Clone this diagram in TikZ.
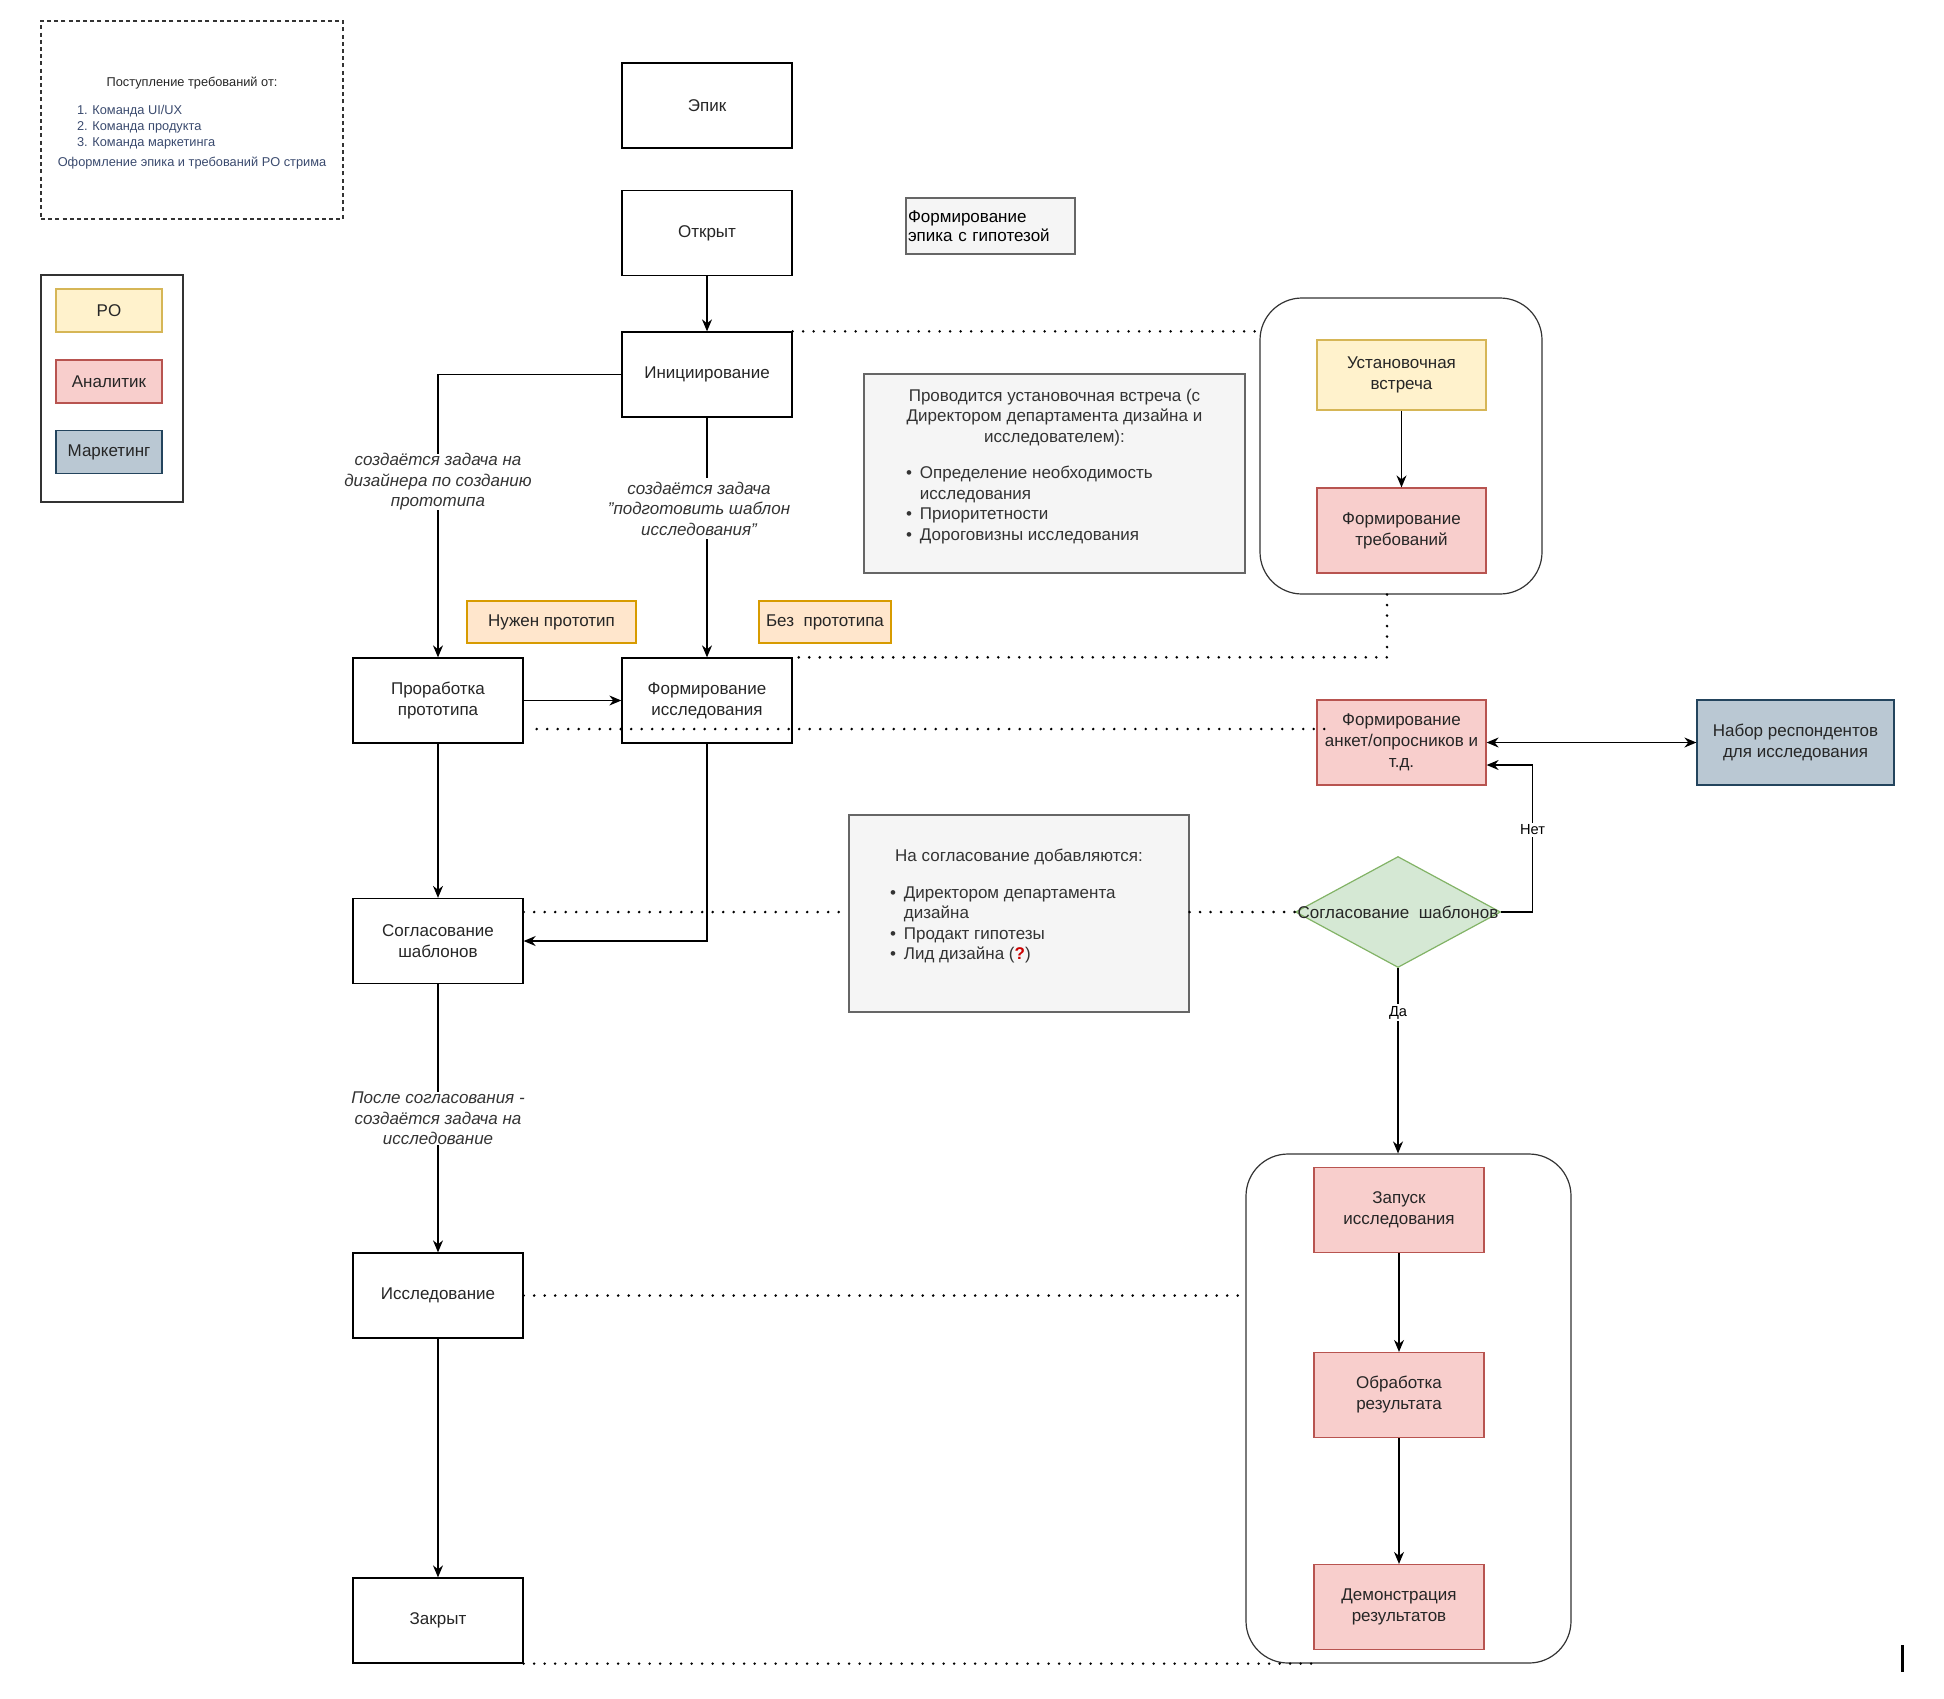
\documentclass[tikz,border=0pt]{standalone}
\usepackage{fontspec}
\setmainfont{Liberation Sans}
\usetikzlibrary{arrows.meta,shapes.geometric}

\definecolor{poFill}{HTML}{FFF2CC}
\definecolor{poLine}{HTML}{D6B656}
\definecolor{anFill}{HTML}{F8CECC}
\definecolor{anLine}{HTML}{B85450}
\definecolor{mkFill}{HTML}{BAC8D3}
\definecolor{mkLine}{HTML}{23445D}
\definecolor{tagFill}{HTML}{FFE6CC}
\definecolor{tagLine}{HTML}{D79B00}
\definecolor{okFill}{HTML}{D5E8D4}
\definecolor{okLine}{HTML}{82B366}
\definecolor{noteFill}{HTML}{F5F5F5}
\definecolor{noteLine}{HTML}{666666}
\definecolor{noteText}{HTML}{333333}
\definecolor{reqBlue}{HTML}{3A4A6E}
\definecolor{askRed}{HTML}{CC0000}

\tikzset{
  stage/.style={draw, line width=0.65pt, minimum width=85pt, minimum height=42.5pt, align=center, inner sep=1pt, text=black!85},
  rolebox/.style={draw, line width=0.6pt, minimum width=84.5pt, minimum height=42.5pt, align=center, inner sep=1pt, text=black!85},
  pobox/.style={rolebox, draw=poLine, fill=poFill},
  anbox/.style={rolebox, draw=anLine, fill=anFill},
  mkbox/.style={rolebox, draw=mkLine, fill=mkFill},
  tagbox/.style={draw=tagLine, fill=tagFill, line width=0.6pt, minimum height=21pt, inner sep=1pt, text=black!85},
  notebox/.style={draw=noteLine, fill=noteFill, text=noteText, line width=0.6pt, inner sep=0pt},
  groupbox/.style={draw=black!80, line width=0.6pt, rounded corners=21pt},
  flow/.style={line width=0.65pt, -{Stealth[length=6pt,width=5pt]}},
  flowboth/.style={line width=0.65pt, {Stealth[length=6pt,width=5pt]}-{Stealth[length=6pt,width=5pt]}},
  dots/.style={line width=1.4pt, dash pattern=on 0pt off 5.25pt, line cap=round},
  edgetxt/.style={font=\fontsize{8.5}{10.25}\selectfont\itshape, text=noteText, fill=white, align=center, inner sep=0pt},
  yesno/.style={font=\fontsize{7.3}{8}\selectfont, fill=white, inner sep=1pt}
}

\begin{document}
\begin{tikzpicture}[font=\fontsize{8.5}{10.5}\selectfont]
    \useasboundingbox (0pt,0pt) rectangle (972pt,-849pt);

    \node[draw=black!80, line width=0.6pt, dash pattern=on 2pt off 1.6pt, minimum width=151pt, minimum height=99pt, align=center, text=black!85, font=\fontsize{6.4}{8}\selectfont] (reqs) at (96pt,-60pt) {\rule{0pt}{8pt}Поступление требований от:\\[6pt]
        \makebox[115pt][l]{\color{reqBlue}1. Команда UI/UX}\\
        \makebox[115pt][l]{\color{reqBlue}2. Команда продукта}\\
        \makebox[115pt][l]{\color{reqBlue}3. Команда маркетинга}\\[2pt]
        {\color{reqBlue}Оформление эпика и требований PO стрима}};

    \node[draw=black!80, line width=0.75pt, minimum width=71pt, minimum height=113.5pt] (legend) at (56pt,-194.25pt) {};
    \node[pobox, minimum width=53pt, minimum height=21.5pt] (po) at (54.5pt,-155.25pt) {PO};
    \node[anbox, minimum width=53pt, minimum height=21.5pt] (analyst) at (54.5pt,-190.75pt) {Аналитик};
    \node[mkbox, minimum width=53pt, minimum height=21.5pt] (marketing) at (54.5pt,-226pt) {Маркетинг};

    \node[stage] (epic) at (353.5pt,-52.75pt) {Эпик};
    \node[stage] (open) at (353.5pt,-116.5pt) {Открыт};
    \node[stage] (init) at (353.5pt,-187.25pt) {Инициирование};
    \node[draw=noteLine, fill=noteFill, line width=0.6pt, text width=82.5pt, inner xsep=1pt, inner ysep=0pt, minimum height=28pt, align=left, font=\fontsize{8.5}{9.5}\selectfont] (hyp) at (495.25pt,-113pt) {Формирование\\эпика с гипотезой};

    \node[notebox, minimum width=190.5pt, minimum height=99.5pt] (note1) at (527.25pt,-236.75pt) {\parbox{190.5pt}{\fontsize{8.5}{10.25}\selectfont\centering
        Проводится установочная встреча (с\\
        Директором департамента дизайна и\\
        исследователем):\par\vspace{8pt}
        \raggedright\hspace*{21pt}\begin{tabular}[t]{@{}l@{\hspace{4pt}}l@{}}
        \textbullet & Определение необходимость\\
         & исследования\\
        \textbullet & Приоритетности\\
        \textbullet & Дороговизны исследования
        \end{tabular}\par\vspace*{6pt}}};

    \node[groupbox, minimum width=141pt, minimum height=148pt] (grp1) at (700.5pt,-223pt) {};
    \node[pobox] (meet) at (700.75pt,-187.5pt) [minimum height=35pt] {Установочная\\встреча};
    \node[anbox] (reqform) at (700.75pt,-265.25pt) {Формирование\\требований};

    \node[tagbox, minimum width=84.5pt] (needproto) at (275.75pt,-311pt) {Нужен прототип};
    \node[tagbox, minimum width=66pt] (noproto) at (412.5pt,-311pt) {Без~ прототипа};

    \node[stage] (proto) at (219pt,-350.25pt) {Проработка\\прототипа};
    \node[stage] (form) at (353.5pt,-350.25pt) {Формирование\\исследования};
    \node[anbox] (anket) at (700.75pt,-371.25pt) {Формирование\\анкет/опросников и\\т.д.};
    \node[mkbox, minimum width=98.5pt] (resp) at (897.75pt,-371.25pt) {Набор респондентов\\для исследования};

    \node[notebox, minimum width=170pt, minimum height=98.5pt] (note2) at (509.5pt,-456.75pt) {\parbox{170pt}{\fontsize{8.5}{10.25}\selectfont\centering
        На согласование добавляются:\par\vspace{8pt}
        \raggedright\hspace*{20.5pt}\begin{tabular}[t]{@{}l@{\hspace{4pt}}l@{}}
        \textbullet & Директором департамента\\
         & дизайна\\
        \textbullet & Продакт гипотезы\\
        \textbullet & Лид дизайна ({\color{askRed}\bfseries ?})
        \end{tabular}\par\vspace*{6pt}}};

    \node[diamond, draw=okLine, fill=okFill, line width=0.6pt, minimum width=102.5pt, minimum height=55.5pt, inner sep=0pt, text=black!85] (check) at (699pt,-456pt) {\makebox[0pt]{Согласование~ шаблонов}};

    \node[stage] (sogl) at (219pt,-470.5pt) {Согласование\\шаблонов};
    \node[stage] (issl) at (219pt,-647.75pt) {Исследование};
    \node[stage] (zakr) at (219pt,-810.25pt) {Закрыт};

    \node[groupbox, minimum width=162.5pt, minimum height=254.5pt] (grp2) at (704.25pt,-704.25pt) {};
    \node[anbox, minimum width=85pt] (launch) at (699.5pt,-605pt) {Запуск\\исследования};
    \node[anbox, minimum width=85pt] (proc) at (699.5pt,-697.5pt) {Обработка\\результата};
    \node[anbox, minimum width=85pt] (demo) at (699.5pt,-803.5pt) {Демонстрация\\результатов};

    \draw[flow] (open) -- (init);
    \draw[flow] (init.west) -| node[edgetxt, pos=0.69] {создаётся задача на\\дизайнера по созданию\\прототипа} (proto.north);
    \draw[flow] (init) -- node[edgetxt, pos=0.38, xshift=-4pt, inner ysep=2pt] {создаётся задача\\"подготовить шаблон\\исследования"} (form);
    \draw[flow] (proto) -- (form);
    \draw[flow] (proto) -- (sogl);
    \draw[flow] (form.south) |- (sogl.east);
    \draw[flow] (sogl) -- node[edgetxt, pos=0.5] {После согласования -\\создаётся задача на\\исследование} (issl);
    \draw[flow] (issl) -- (zakr);
    \draw[flow] (meet) -- (reqform);
    \draw[flowboth] (anket) -- (resp);
    \draw[flow] (check.east) -- ++(15.75pt,0pt) |- node[yesno, pos=0.28] {Нет} ([yshift=-11.25pt]anket.east);
    \draw[flow] (check.south) -- node[yesno, pos=0.24] {Да} (check.south |- grp2.north);
    \draw[flow] (launch) -- (proc);
    \draw[flow] (proc) -- (demo);

    \draw[dots] (init.north east) -- (init.north east -| grp1.west);
    \draw[dots] ([xshift=-7pt]grp1.south) |- (form.north east);
    \draw[dots] ([shift={(6.5pt,-14.25pt)}]proto.east) -- ([shift={(8pt,6.75pt)}]anket.west);
    \draw[dots] (sogl.east |- check.west) -- (note2.west |- check.west);
    \draw[dots] (note2.east |- check.west) -- (check.west);
    \draw[dots] (issl.east) -- (issl.east -| grp2.west);
    \draw[dots] (zakr.south east) -- (zakr.south east -| demo.west);

    \draw[line width=1.5pt] (951pt,-822.5pt) -- (951pt,-836pt);
\end{tikzpicture}
\end{document}
